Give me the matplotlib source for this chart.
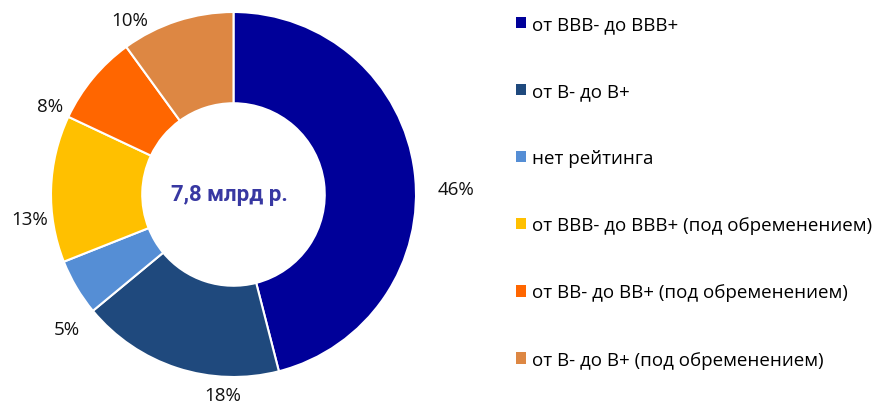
import matplotlib
matplotlib.use("Agg")
import matplotlib.pyplot as plt
import matplotlib.patches as mpatches

# ── Data ──────────────────────────────────────────────────────────────────
CATEGORIES = [
    "от BBB- до BBB+",
    "от B- до B+",
    "нет рейтинга",
    "от BBB- до BBB+ (под обременением)",
    "от BB- до BB+ (под обременением)",
    "от B- до B+ (под обременением)",
]
SHARES = [46, 18, 5, 13, 8, 10]
TOTAL_LABEL = "7,8 млрд р."

COLORS = ["#000099", "#1F497D", "#558ED5", "#FFC000", "#FF6600", "#DD8743"]

# label centres (pixels from the top-left of the figure), as Excel laid them out
LABEL_PX = [(456, 190), (223, 396), (67, 330), (30, 220), (50, 107), (130, 21)]

W, H = 887, 406
CX, CY, R = 233.5, 195.5, 182.5

fig = plt.figure(figsize=(W / 100, H / 100), dpi=100)
ax = fig.add_axes([0, 0, 1, 1])

ax.pie(SHARES, colors=COLORS, startangle=90, counterclock=False, radius=1,
       wedgeprops=dict(width=0.5, edgecolor="white", linewidth=1.5))

# pie() resets limits/aspect -> put the donut where the reference has it
ax.set_aspect("auto")
ax.set_xlim(-CX / R, (W - CX) / R)
ax.set_ylim(-(H - CY) / R, CY / R)
ax.axis("off")

for share, (px, py) in zip(SHARES, LABEL_PX):
    ax.text((px - CX) / R, (CY - py) / R, f"{share}%", ha="center", va="center",
            fontsize=13.5, color="#111111", family="Open Sans")

ax.text(-4 / R, 0, TOTAL_LABEL, ha="center", va="center", fontsize=16,
        fontweight="bold", color="#3838A2", family="Roboto")

handles = [mpatches.Patch(facecolor=c, edgecolor="none", label=l)
           for c, l in zip(COLORS, CATEGORIES)]
fig.legend(handles=handles, loc="upper left",
           bbox_to_anchor=(516 / W, 1 - 16 / H), frameon=False,
           prop=dict(family="Open Sans", size=13.5),
           handlelength=0.55, handleheight=0.55, handletextpad=0.3,
           labelspacing=2.62, borderaxespad=0, borderpad=0)

fig.savefig("out.png", dpi=100)
